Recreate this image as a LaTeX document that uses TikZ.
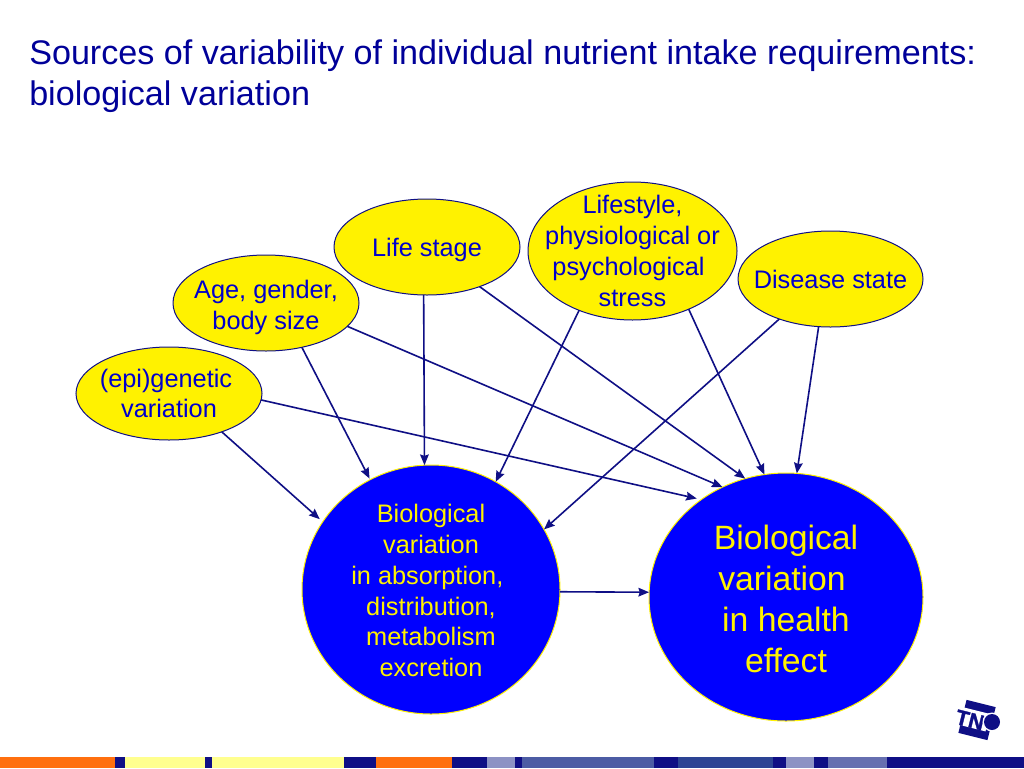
\documentclass[tikz,border=0pt]{standalone}
\usepackage{fontspec}
\setmainfont{Liberation Sans}
\newfontfamily\logofont[FakeBold=1.5]{Liberation Sans Bold}
\usetikzlibrary{shapes.geometric,arrows.meta}
\definecolor{navy}{HTML}{0F0F85}
\definecolor{titleblue}{HTML}{000099}
\definecolor{textblue}{HTML}{0000CC}
\definecolor{barorange}{HTML}{FF6F0F}
\definecolor{baryellow}{HTML}{FFFF8F}
\definecolor{barlight}{HTML}{8C92C4}
\definecolor{barslate}{HTML}{4C5CA4}
\definecolor{barblue}{HTML}{2C4494}
\definecolor{barmid}{HTML}{666FB0}
\newcommand{\firstline}[1]{\rule{0pt}{#1pt}}
\newcommand{\nudge}[2]{\makebox[0pt][c]{#2\kern #1pt}}
\tikzset{
  x=0.75pt,y=-0.75pt,
  factor/.style={ellipse,draw=navy,line width=0.75pt,fill=yellow,inner sep=-14pt,outer sep=0pt,
    text=textblue,align=center,font=\fontsize{19}{23.1}\selectfont},
  effect/.style={ellipse,draw=yellow,line width=0.75pt,fill=blue,inner sep=-14pt,outer sep=0pt,
    text=yellow,align=center},
  conn/.style={draw=navy,line width=1.2pt,-{Stealth[length=8pt,width=6.5pt,inset=1pt]}},
  titletext/.style={anchor=north west,inner sep=0pt,text=titleblue,align=left,
    font=\fontsize{25.6}{30.75}\selectfont}
}
\begin{document}
\begin{tikzpicture}
\useasboundingbox (0,0) rectangle (1024,768);
\fill[white] (0,0) rectangle (1024,768);
\node[titletext] (title) at (29,39) {Sources of variability of individual nutrient intake requirements:\\biological variation};

\node[factor,minimum width=139.5pt,minimum height=69.75pt] (epi) at (169,393.5) {(epi)genetic\hspace*{4.5pt}\\variation};
\node[factor,minimum width=139.5pt,minimum height=72pt] (age) at (266,303) {\firstline{20.4}Age, gender,\\body size};
\node[factor,minimum width=139.5pt,minimum height=72pt] (life) at (427,247) {\firstline{18.4}Life stage};
\node[factor,minimum width=156.75pt,minimum height=103.5pt] (style) at (632.5,251) {Lifestyle,\\physiological or\\\nudge{6}{psychological}\\stress};
\node[factor,minimum width=138.75pt,minimum height=72pt] (disease) at (830.5,279) {\firstline{14.5}Disease state};

\node[effect,minimum width=193.5pt,minimum height=186.75pt,font=\fontsize{19}{23.1}\selectfont] (absorb) at (431,589.5) {\firstline{15.5}Biological\\variation\\\nudge{5.5}{in absorption,}\\distribution,\\metabolism\\excretion};
\node[effect,minimum width=205.5pt,minimum height=186pt,font=\fontsize{25.3}{30.75}\selectfont] (health) at (786,597) {\firstline{21.2}Biological\\\nudge{6}{variation}\\in health\\effect};

\draw[conn,shorten >=3pt] (epi.-36.7) -- (absorb.148.4);
\draw[conn,shorten >=3.5pt] (epi.-4.6) -- (health.131.1);
\draw[conn,shorten >=1pt] (age.-51.5) -- (absorb.119.9);
\draw[conn] (age.-16.2) -- (health.120.4);
\draw[conn] (life.-94.8) -- (absorb.93.7);
\draw[conn] (life.-37) -- (health.109);
\draw[conn] (style.-132.8) -- (absorb.59.5);
\draw[conn] (style.-46.2) -- (health.100.9);
\draw[conn] (disease.-142) -- (absorb.28.3);
\draw[conn] (disease.-104.6) -- (health.85.9);
\draw[conn] (absorb.-1.7) -- (health.178.5);

% footer bar
\foreach \xa/\xb/\col in {0/115/barorange,115/125/navy,125/205/baryellow,205/212/navy,212/344/baryellow,344/376/navy,376/452/barorange,452/487/navy,487/515/barlight,515/522/navy,522/654/barslate,654/678/navy,678/773/barblue,773/786/navy,786/814/barlight,814/828/navy,828/887/barmid,887/1024/navy}
  \fill[\col] (\xa,757) rectangle (\xb,768);

% logo
\fill[navy,rotate around={-14:(977,720)}] (962,703) rectangle (992,737);
\fill[white,rotate around={-14:(977,720)}] (953,711) rectangle (988,729);
\node[rotate=-14,inner sep=0pt,text=navy,font=\logofont\fontsize{16}{16}\selectfont] (logotext) at (970,720) {TN};
\fill[white] (992,722) circle (9.5);
\fill[navy] (992,722) circle (8);
\end{tikzpicture}
\end{document}
